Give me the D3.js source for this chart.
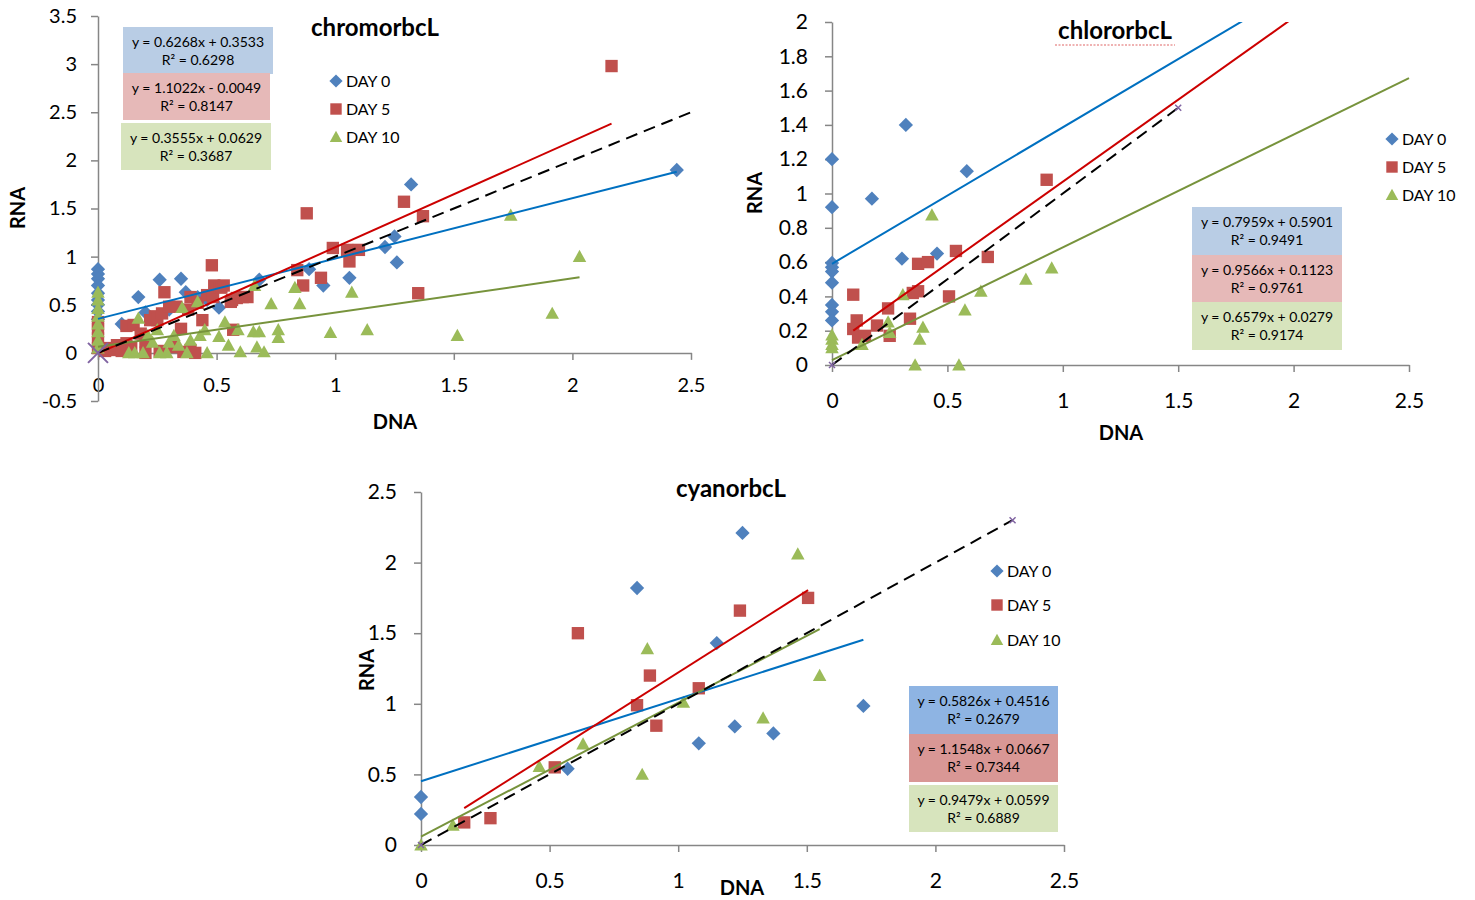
<!DOCTYPE html>
<html><head><meta charset="utf-8">
<script src="https://cdn.jsdelivr.net/npm/d3@7"></script>
<style>
html,body{margin:0;padding:0;background:#fff;}
text{font-family:Lato,"Open Sans",sans-serif;fill:#000;}
</style></head>
<body><svg id="c" width="1475" height="900"></svg>
<script>
// ---------- DATA ----------
const seriesNames = ["DAY 0", "DAY 5", "DAY 10"];

// chromorbcL
const chromDay0 = [[0,0.87],[0,0.82],[0,0.77],[0,0.70],[0,0.62],[0,0.55],[0,0.50],[0,0.43],[0,0.35],
  [0.10,0.30],[0.17,0.58],[0.20,0.42],[0.26,0.76],[0.30,0.45],[0.35,0.77],[0.37,0.63],[0.42,0.58],[0.46,0.55],[0.51,0.47],
  [0.68,0.76],[0.89,0.87],[0.95,0.70],[1.06,0.78],[1.21,1.10],[1.25,1.21],[1.26,0.94],[1.32,1.75],[2.44,1.90]];
const chromDay5 = [[0,0.32],[0,0.25],[0,0.15],[0,0.05],[0.03,0.02],[0.05,0.05],[0.07,0.03],[0.08,0.08],[0.10,0.02],
  [0.12,0.10],[0.12,0.28],[0.15,0.29],[0.14,0.05],[0.18,0.20],[0.20,0.12],[0.20,0.0],[0.22,0.34],[0.24,0.38],[0.25,0.34],
  [0.26,0.02],[0.27,0.41],[0.28,0.63],[0.30,0.48],[0.32,0.06],[0.33,0.48],[0.35,0.25],[0.36,0.01],[0.38,0.45],[0.39,0.58],
  [0.39,0.03],[0.41,0.0],[0.42,0.52],[0.44,0.34],[0.46,0.60],[0.48,0.91],[0.485,0.58],[0.49,0.70],[0.515,0.68],[0.52,0.68],
  [0.53,0.70],[0.56,0.53],[0.57,0.24],[0.565,0.55],[0.585,0.57],[0.61,0.58],[0.63,0.58],[0.84,0.86],[0.865,0.70],[0.88,1.45],
  [0.94,0.78],[0.99,1.09],[1.05,1.07],[1.06,0.95],[1.10,1.07],[1.29,1.57],[1.35,0.62],[1.37,1.42],[2.165,2.98]];
const chromDay10 = [[0,0.63],[0,0.55],[0,0.46],[0,0.38],[0,0.30],[0,0.22],[0,0.13],[0,0.05],
  [0.13,0.0],[0.155,0.0],[0.17,0.36],[0.19,0.0],[0.21,0.18],[0.23,0.11],[0.25,0.24],[0.26,0.0],[0.29,0.0],[0.30,0.11],
  [0.32,0.18],[0.34,0.08],[0.355,0.47],[0.375,0.0],[0.39,0.13],[0.42,0.53],[0.43,0.18],[0.45,0.24],[0.46,0.0],[0.51,0.17],
  [0.535,0.32],[0.55,0.08],[0.59,0.24],[0.60,0.01],[0.655,0.22],[0.66,0.70],[0.67,0.06],[0.68,0.22],[0.70,0.01],[0.73,0.51],
  [0.76,0.24],[0.76,0.16],[0.83,0.68],[0.85,0.51],[0.98,0.21],[1.07,0.63],[1.135,0.24],[1.515,0.18],[1.74,1.43],[1.915,0.41],[2.03,1.00]];
const chromFits = [[0.6268,0.3533,0,2.44],[1.1022,-0.0049,0,2.165],[0.3555,0.0629,0,2.03]]; // slope, intercept, xmin, xmax
const chromEq = [["y = 0.6268x + 0.3533","R² = 0.6298"],["y = 1.1022x - 0.0049","R² = 0.8147"],["y = 0.3555x + 0.0629","R² = 0.3687"]];
const chromXTicks = [0,0.5,1,1.5,2,2.5];
const chromYTicks = [-0.5,0,0.5,1,1.5,2,2.5,3,3.5];
const chromOneToOne = [[0,0],[2.5,2.5]];

// chlororbcL
const chlorDay0 = [[0,1.2],[0,0.92],[0,0.595],[0,0.57],[0,0.545],[0,0.48],[0,0.35],[0,0.31],[0,0.26],
  [0.173,0.97],[0.303,0.62],[0.32,1.40],[0.455,0.65],[0.584,1.13]];
const chlorDay5 = [[0.092,0.41],[0.107,0.26],[0.092,0.21],[0.113,0.16],[0.143,0.17],[0.195,0.23],[0.243,0.33],[0.25,0.17],
  [0.338,0.27],[0.35,0.42],[0.373,0.43],[0.373,0.59],[0.416,0.60],[0.507,0.40],[0.537,0.665],[0.675,0.63],[0.93,1.08]];
const chlorDay10 = [[0,0.175],[0,0.15],[0,0.12],[0,0.10],[0.13,0.12],[0.243,0.25],[0.25,0.19],[0.307,0.41],[0.36,0.0],
  [0.38,0.15],[0.394,0.22],[0.433,0.875],[0.55,0.0],[0.576,0.32],[0.645,0.43],[0.84,0.50],[0.952,0.565]];
const chlorFits = [[0.7959,0.5901,0,2.5],[0.9566,0.1123,0.092,2.5],[0.6579,0.0279,0,2.5]];
const chlorEq = [["y = 0.7959x + 0.5901","R² = 0.9491"],["y = 0.9566x + 0.1123","R² = 0.9761"],["y = 0.6579x + 0.0279","R² = 0.9174"]];
const chlorXTicks = [0,0.5,1,1.5,2,2.5];
const chlorYTicks = [0,0.2,0.4,0.6,0.8,1,1.2,1.4,1.6,1.8,2];
const chlorOneToOne = [[0,0],[1.5,1.5]];

// cyanorbcL
const cyanDay0 = [[0,0.34],[0,0.22],[0.57,0.54],[0.84,1.82],[1.08,0.72],[1.15,1.43],[1.22,0.84],[1.25,2.21],[1.37,0.79],[1.72,0.985]];
const cyanDay5 = [[0.168,0.16],[0.27,0.19],[0.52,0.55],[0.61,1.50],[0.84,0.99],[0.89,1.20],[0.915,0.845],[1.08,1.11],[1.24,1.66],[1.505,1.75]];
const cyanDay10 = [[0,0.0],[0.124,0.14],[0.46,0.555],[0.63,0.715],[0.86,0.50],[0.88,1.39],[1.02,1.01],[1.33,0.90],[1.465,2.06],[1.55,1.20]];
const cyanFits = [[0.5826,0.4516,0,1.72],[1.1548,0.0667,0.168,1.505],[0.9479,0.0599,0,1.55]];
const cyanEq = [["y = 0.5826x + 0.4516","R² = 0.2679"],["y = 1.1548x + 0.0667","R² = 0.7344"],["y = 0.9479x + 0.0599","R² = 0.6889"]];
const cyanXTicks = [0,0.5,1,1.5,2,2.5];
const cyanYTicks = [0,0.5,1,1.5,2,2.5];
const cyanOneToOne = [[0,0],[2.3,2.3]];

// ---------- STYLE ----------
const markerColors = ["#4f81bd","#c0504d","#9bbb59"];
const lineColors = ["#0070c0","#cc0000","#77933c"];
const axisColor = "#868686";

const svg = d3.select("#c");

function marker(g, type, x, y, s){
  if(type===0){ const h=s*0.55; g.append("path").attr("d",`M${x},${y-h}L${x+h},${y}L${x},${y+h}L${x-h},${y}Z`).attr("fill",markerColors[0]); }
  else if(type===1){ const w=s*0.95; g.append("rect").attr("x",x-w/2).attr("y",y-w/2).attr("width",w).attr("height",w).attr("fill",markerColors[1]); }
  else { g.append("path").attr("d",`M${x},${y-s*0.52}L${x+s*0.52},${y+s*0.42}L${x-s*0.52},${y+s*0.42}Z`).attr("fill",markerColors[2]); }
}

function drawChart(cfg){
  const g = svg.append("g");
  const x = d3.scaleLinear().domain([0,2.5]).range(cfg.xr);
  const y = d3.scaleLinear().domain(cfg.yd).range(cfg.yr);
  const fmt = d => String(d);

  const cid = "clip"+cfg.id;
  svg.append("clipPath").attr("id",cid).append("rect")
    .attr("x",cfg.xr[0]-20).attr("y",cfg.yr[1]).attr("width",cfg.xr[1]-cfg.xr[0]+40).attr("height",cfg.yr[0]-cfg.yr[1]+20);

  // axes
  const xa = g.append("g").attr("transform",`translate(0,${y(0)})`)
    .call(d3.axisBottom(x).tickValues(cfg.xTicks).tickSize(7).tickSizeOuter(0).tickPadding(cfg.xPad).tickFormat(fmt));
  const ya = g.append("g").attr("transform",`translate(${x(0)},0)`)
    .call(d3.axisLeft(y).tickValues(cfg.yTicks).tickSize(7).tickSizeOuter(0).tickPadding(cfg.yPad).tickFormat(fmt));
  [xa,ya].forEach(a=>{
    a.selectAll("path,line").attr("stroke",axisColor).attr("stroke-width",1.5);
    a.selectAll("text").attr("font-size",cfg.tickFont).attr("font-family","Lato, sans-serif").attr("fill","#000");
  });

  // markers
  const mg = g.append("g");
  cfg.series.forEach((s,i)=>{
    s.forEach(p=>marker(mg,i,x(p[0]),y(p[1]),cfg.ms));
  });

  // trendlines
  const lg = g.append("g").attr("clip-path",`url(#${cid})`);
  const line = d3.line().x(d=>x(d[0])).y(d=>y(d[1]));
  cfg.fits.forEach((f,i)=>{
    const pts = [[f[2], f[0]*f[2]+f[1]],[f[3], f[0]*f[3]+f[1]]];
    lg.append("path").attr("d",line(pts)).attr("stroke",lineColors[i]).attr("stroke-width",2).attr("fill","none");
  });
  lg.append("path").attr("d",line(cfg.one)).attr("stroke","#000").attr("stroke-width",2)
    .attr("stroke-dasharray","12,7").attr("fill","none");
  cfg.one.forEach((p,i)=>{
    const s = cfg.xMarker[i]; if(!s) return;
    const cx=x(p[0]), cy=y(p[1]);
    g.append("path").attr("d",`M${cx-s},${cy-s}L${cx+s},${cy+s}M${cx-s},${cy+s}L${cx+s},${cy-s}`)
      .attr("stroke","#8064a2").attr("stroke-width",s>4?2:1.5);
  });

  // title
  g.append("text").attr("x",cfg.title[1]).attr("y",cfg.title[2]).attr("text-anchor","middle")
    .attr("font-size",24).attr("font-weight","bold").text(cfg.title[0]);
  if(cfg.underline){
    g.append("path").attr("d",`M${cfg.title[1]-60},${cfg.title[2]+6}H${cfg.title[1]+60}`)
      .attr("stroke","#e06666").attr("stroke-width",1.2).attr("stroke-dasharray","2,1.5");
  }
  // axis titles
  g.append("text").attr("transform",`translate(${cfg.rnaPos[0]},${cfg.rnaPos[1]}) rotate(-90)`)
    .attr("text-anchor","middle").attr("dy","0.35em").attr("font-size",20).attr("font-weight","bold").text("RNA");
  g.append("text").attr("x",cfg.dnaPos[0]).attr("y",cfg.dnaPos[1]).attr("dy","0.35em")
    .attr("text-anchor","middle").attr("font-size",20).attr("font-weight","bold").text("DNA");

  // legend
  seriesNames.forEach((n,i)=>{
    marker(g,i,cfg.legend[0],cfg.legend[1][i],12);
    g.append("text").attr("x",cfg.legend[0]+10).attr("y",cfg.legend[1][i]).attr("dy","0.36em")
      .attr("font-size",16).text(n);
  });

  // equation boxes
  cfg.boxes.forEach((b,i)=>{
    g.append("rect").attr("x",b[0]).attr("y",b[1]).attr("width",b[2]).attr("height",b[3]).attr("fill",cfg.boxColors[i]);
    cfg.eq[i].forEach((t,j)=>{
      g.append("text").attr("x",b[0]+b[2]/2).attr("y",b[1]+15+j*18).attr("dy","0.35em")
        .attr("text-anchor","middle").attr("font-size",14).text(t);
    });
  });
}

drawChart({id:1, xr:[98,691], yd:[-0.5,3.5], yr:[401,16], xTicks:chromXTicks, yTicks:chromYTicks, xPad:18, yPad:14, tickFont:20,
  series:[chromDay0,chromDay5,chromDay10], fits:chromFits, one:chromOneToOne, xMarker:[10,0], ms:13,
  title:["chromorbcL",375,36], rnaPos:[18,208], dnaPos:[395,422],
  legend:[336,[81,109,137]], eq:chromEq,
  boxes:[[123,27,150,47],[123,73,147,47],[121,123,150,47]], boxColors:["#b9cde5","#e6b9b8","#d7e4bd"]});

drawChart({id:2, xr:[832,1409], yd:[0,2], yr:[365,22], xTicks:chlorXTicks, yTicks:chlorYTicks, xPad:21, yPad:17, tickFont:21,
  series:[chlorDay0,chlorDay5,chlorDay10], fits:chlorFits, one:chlorOneToOne, xMarker:[3,3], ms:13, underline:true,
  title:["chlororbcL",1115,39], rnaPos:[755,193], dnaPos:[1121,433],
  legend:[1392,[139,167,195]], eq:chlorEq,
  boxes:[[1192,207,150,48],[1192,255,150,47],[1192,302,150,48]], boxColors:["#b9cde5","#e6b9b8","#d7e4bd"]});

drawChart({id:3, xr:[421,1064], yd:[0,2.5], yr:[845,492], xTicks:cyanXTicks, yTicks:cyanYTicks, xPad:21, yPad:17, tickFont:21,
  series:[cyanDay0,cyanDay5,cyanDay10], fits:cyanFits, one:cyanOneToOne, xMarker:[3,3], ms:13,
  title:["cyanorbcL",731,497], rnaPos:[367,670], dnaPos:[742,888],
  legend:[997,[571,605,640]], eq:cyanEq,
  boxes:[[909,686,149,48],[909,734,149,48],[909,785,149,47]], boxColors:["#8eb4e3","#d99795","#d7e4bd"]});
</script>
</body></html>
